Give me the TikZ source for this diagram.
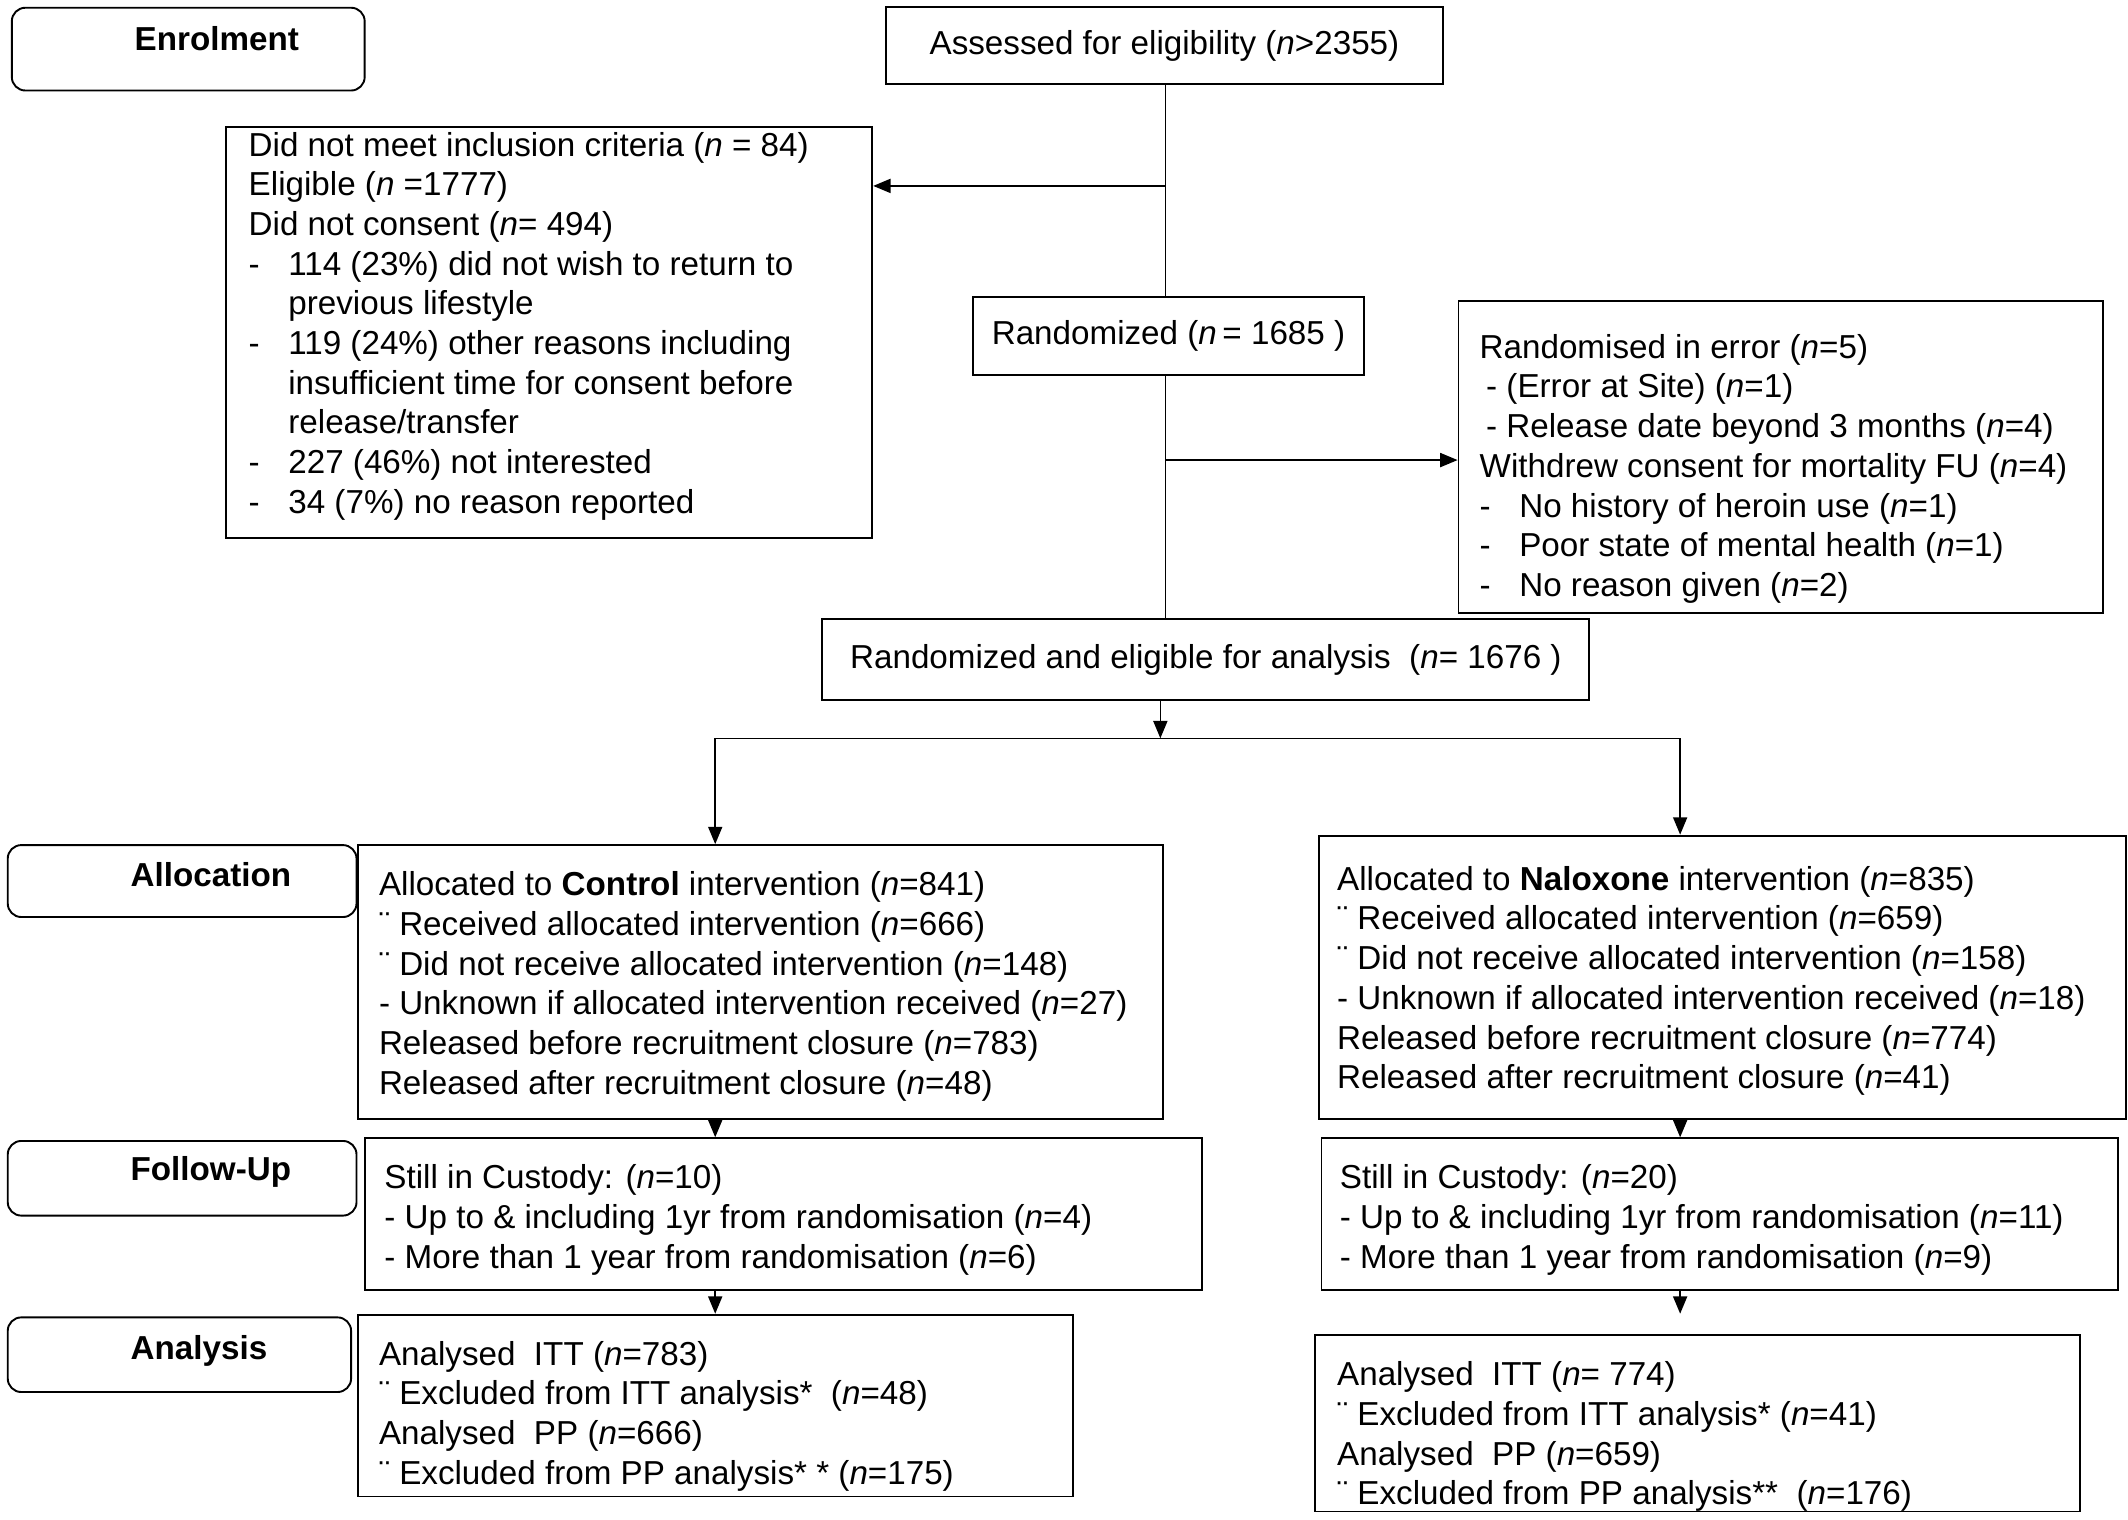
\documentclass[tikz,border=0pt]{standalone}
\usepackage{fontspec}
\setmainfont{Liberation Sans}
\usepackage{tikz}
\usetikzlibrary{positioning,arrows.meta}
\newcommand{\nn}{\textit{n}}
\newcommand{\bodyfont}{\fontsize{17.4}{20.8}\selectfont}
\newcommand{\dsh}{\makebox[7.3mm][l]{-}}
\newcommand{\hangin}{\hspace*{7.3mm}}
\newcommand{\stack}[1]{\begin{tabular}[t]{@{}l@{}}#1\end{tabular}}
\tikzset{
  panel/.style  = {rectangle, draw=black, line width=1pt, anchor=north west, inner sep=0pt},
  stage/.style  = {panel, rounded corners=2.5mm},
  single/.style = {rectangle, draw=black, line width=1pt, inner sep=0pt, font=\bodyfont},
  txt/.style    = {anchor=base west, inner sep=0pt, font=\bodyfont},
  conn/.style   = {line width=0.7pt},
  arr/.style    = {-{Triangle[length=3.2mm,width=2.6mm]}, line width=0.8pt},
}

\begin{document}
\begin{tikzpicture}[x=0.25mm, y=-0.25mm]
  \useasboundingbox (0,0) rectangle (1568,1120);

  % stage labels on the left
  \node[stage, minimum width=65mm, minimum height=15.25mm] (enrol) at (8,5) {};
  \node[txt] (enrol-t) at (99,37) {\bfseries Enrolment};
  \node[stage, minimum width=64.25mm, minimum height=13.25mm] (alloc) at (5,622) {};
  \node[txt] (alloc-t) at (96,653) {\bfseries Allocation};
  \node[stage, minimum width=64.25mm, minimum height=13.75mm] (fu) at (5,840) {};
  \node[txt] (fu-t) at (96,870) {\bfseries Follow-Up};
  \node[stage, minimum width=63.25mm, minimum height=13.75mm] (ana) at (5,970) {};
  \node[txt] (ana-t) at (96,1002) {\bfseries Analysis};

  % enrolment
  \node[single, minimum width=102.5mm, minimum height=14.25mm] (assess) at (858,33.5)
    {Assessed for eligibility\ (\nn{}>2355)};
  \node[panel, minimum width=119mm, minimum height=75.75mm] (excl) at (166,93) {};
  \node[txt] (excl-t) at (183,115) {\stack{%
    Did not meet inclusion criteria (\nn{} = 84)\\
    Eligible\ (\nn{} =1777)\\
    Did not consent (\nn{}= 494)\\
    \dsh 114 (23\%) did not wish to return to\\
    \hangin previous lifestyle\\
    \dsh 119 (24\%) other reasons including\\
    \hangin insufficient time for consent before\\
    \hangin release/transfer\\
    \dsh 227 (46\%) not interested\\
    \dsh 34 (7\%) no reason reported}};
  \node[single, minimum width=72mm, minimum height=14.25mm] (rand) at (861,247.5)
    {Randomized (\nn{}\,= 1685\ )};
  \node[panel, minimum width=118.75mm, minimum height=57.5mm] (err) at (1074,221) {};
  \node[txt] (err-t) at (1090,264) {\stack{%
    Randomised in error (\nn{}=5)\\
    \hspace*{1.2mm}- (Error at Site) (\nn{}=1)\\
    \hspace*{1.2mm}- Release date beyond 3 months (\nn{}=4)\\
    Withdrew consent for mortality FU (\nn{}=4)\\
    \dsh No history of heroin use (\nn{}=1)\\
    \dsh Poor state of mental health (\nn{}=1)\\
    \dsh No reason given (\nn{}=2)}};
  \node[single, minimum width=141.25mm, minimum height=15mm] (elig) at (888.5,486)
    {Randomized and eligible\ for analysis\ \ (\nn{}= 1676 )};

  % allocation
  \node[panel, minimum width=148.25mm, minimum height=50.5mm] (ctrl) at (263,622) {};
  \node[txt] (ctrl-t) at (279,660) {\stack{%
    Allocated to \textbf{Control} intervention\ (\nn{}=841)\\
    ¨ Received allocated intervention\ (\nn{}=666)\\
    ¨ Did not receive allocated intervention\ (\nn{}=148)\\
    - Unknown if allocated intervention received (\nn{}=27)\\
    Released before recruitment closure (\nn{}=783)\\
    Released after recruitment closure (\nn{}=48)}};
  \node[panel, minimum width=148.75mm, minimum height=52.25mm] (nal) at (971,615) {};
  \node[txt] (nal-t) at (985,656) {\stack{%
    Allocated to \textbf{Naloxone} intervention\ (\nn{}=835)\\
    ¨ Received allocated intervention\ (\nn{}=659)\\
    ¨ Did not receive allocated intervention\ (\nn{}=158)\\
    - Unknown if allocated intervention received (\nn{}=18)\\
    Released before recruitment closure (\nn{}=774)\\
    Released after recruitment closure (\nn{}=41)}};

  % follow-up
  \node[panel, minimum width=154.25mm, minimum height=28mm] (ctrlfu) at (268,838) {};
  \node[txt] (ctrlfu-t) at (283,876) {\stack{%
    Still in Custody: (\nn{}=10)\\
    - Up to \& including\ 1yr from randomisation (\nn{}=4)\\
    - More than 1 year from randomisation (\nn{}=6)}};
  \node[panel, minimum width=146.75mm, minimum height=28mm] (nalfu) at (973,838) {};
  \node[txt] (nalfu-t) at (987,876) {\stack{%
    Still in Custody: (\nn{}=20)\\
    - Up to \& including\ 1yr from randomisation (\nn{}=11)\\
    - More than 1 year from randomisation (\nn{}=9)}};

  % analysis
  \node[panel, minimum width=131.75mm, minimum height=33.5mm] (ctrlana) at (263,968) {};
  \node[txt] (ctrlana-t) at (279,1006) {\stack{%
    Analysed\ \ ITT (\nn{}=783)\\
    ¨ Excluded from ITT analysis*\ \ (\nn{}=48)\\
    Analysed\ \ PP (\nn{}=666)\\
    ¨ Excluded from PP analysis* * (\nn{}=175)}};
  \node[panel, minimum width=141mm, minimum height=32.5mm] (nalana) at (968,983) {};
  \node[txt] (nalana-t) at (985,1021) {\stack{%
    Analysed\ \ ITT (\nn{}= 774)\\
    ¨ Excluded from ITT analysis* (\nn{}=41)\\
    Analysed\ \ PP (\nn{}=659)\\
    ¨ Excluded from PP analysis**\ \ (\nn{}=176)}};

  % junctions
  \coordinate (j1) at (859,137);
  \coordinate (j2) at (859,339);
  \coordinate (split) at (855,544);
  \coordinate (splitL) at (527,544);
  \coordinate (splitR) at (1238,544);
  \coordinate (gap) at (1238,968);

  \draw[conn] (assess.south -| j1) -- (rand.north -| j1);
  \draw[arr] (j1) -- (j1 -| excl.east);
  \draw[conn] (rand.south -| j1) -- (elig.north -| j1);
  \draw[arr] (j2) -- (j2 -| err.west);
  \draw[arr] (elig.south -| split) -- (split);
  \draw[conn] (splitL) -- (splitR);
  \draw[arr] (splitL) -- (ctrl.north -| splitL);
  \draw[arr] (splitR) -- (nal.north -| splitR);
  \draw[arr] (ctrl.south -| splitL) -- (ctrlfu.north -| splitL);
  \draw[arr] (nal.south -| splitR) -- (nalfu.north -| splitR);
  \draw[arr] (ctrlfu.south -| splitL) -- (ctrlana.north -| splitL);
  \draw[arr] (nalfu.south -| splitR) -- (gap);
\end{tikzpicture}
\end{document}
